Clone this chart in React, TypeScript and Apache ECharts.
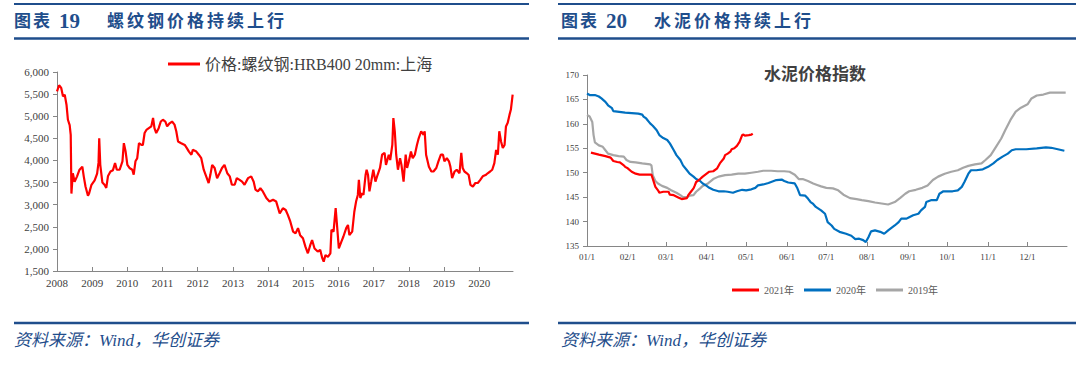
import React, { useEffect, useRef } from "react";
import * as echarts from "echarts";

// ---------- Data: left chart (rebar price, Shanghai HRB400 20mm) ----------
const rebarSeriesName = "价格:螺纹钢:HRB400 20mm:上海";
const rebarYearTicks = [2008, 2009, 2010, 2011, 2012, 2013, 2014, 2015, 2016, 2017, 2018, 2019, 2020];
const rebarPrice: [number, number][] = [
  [2008.0, 5560], [2008.06, 5700], [2008.12, 5640], [2008.17, 5450], [2008.22, 5485], [2008.27, 5260],
  [2008.31, 4920], [2008.36, 4800], [2008.39, 4580], [2008.41, 3250], [2008.45, 3710], [2008.5, 3520],
  [2008.57, 3640], [2008.64, 3790], [2008.72, 3860], [2008.76, 3640], [2008.81, 3410], [2008.88, 3200],
  [2008.91, 3250], [2008.98, 3450], [2009.07, 3550], [2009.14, 3700], [2009.18, 3950], [2009.2, 4500],
  [2009.23, 3900], [2009.29, 3500], [2009.35, 3450], [2009.4, 3380], [2009.45, 3650], [2009.52, 3750],
  [2009.59, 3780], [2009.65, 3940], [2009.7, 3790], [2009.78, 3790], [2009.86, 3980], [2009.9, 4390],
  [2009.95, 4200], [2010.0, 3900], [2010.06, 3830], [2010.14, 3790], [2010.18, 3680], [2010.23, 3980],
  [2010.28, 4050], [2010.33, 4390], [2010.4, 4350], [2010.44, 4350], [2010.49, 4620], [2010.54, 4690],
  [2010.61, 4730], [2010.68, 4770], [2010.73, 4960], [2010.77, 4730], [2010.82, 4620], [2010.89, 4730],
  [2010.95, 4880], [2011.01, 4920], [2011.08, 4880], [2011.13, 4770], [2011.2, 4840], [2011.27, 4880],
  [2011.34, 4810], [2011.39, 4660], [2011.44, 4430], [2011.53, 4390], [2011.63, 4350], [2011.69, 4280],
  [2011.75, 4200], [2011.82, 4130], [2011.86, 4240], [2011.96, 4200], [2012.03, 4130], [2012.1, 4050],
  [2012.17, 3790], [2012.24, 3640], [2012.31, 3490], [2012.36, 3680], [2012.41, 3900], [2012.48, 3830],
  [2012.55, 3600], [2012.62, 3710], [2012.69, 3830], [2012.76, 3900], [2012.84, 3710], [2012.91, 3640],
  [2012.97, 3450], [2013.05, 3450], [2013.11, 3600], [2013.19, 3560], [2013.26, 3520], [2013.33, 3450],
  [2013.43, 3600], [2013.52, 3640], [2013.59, 3520], [2013.64, 3340], [2013.71, 3300], [2013.78, 3370],
  [2013.85, 3300], [2013.95, 3150], [2014.04, 3070], [2014.14, 3110], [2014.23, 3070], [2014.33, 2800],
  [2014.42, 2920], [2014.5, 2880], [2014.56, 2770], [2014.63, 2620], [2014.71, 2390], [2014.78, 2350],
  [2014.85, 2470], [2014.91, 2310], [2014.99, 2240], [2015.06, 2050], [2015.13, 1900], [2015.2, 2090],
  [2015.25, 2200], [2015.32, 2010], [2015.41, 1940], [2015.48, 1980], [2015.54, 1790], [2015.58, 1710],
  [2015.63, 1860], [2015.7, 1820], [2015.77, 1900], [2015.8, 2430], [2015.86, 2390], [2015.92, 2920],
  [2015.95, 2620], [2016.01, 2010], [2016.08, 2160], [2016.14, 2280], [2016.22, 2470], [2016.27, 2540],
  [2016.31, 2310], [2016.39, 2390], [2016.45, 2840], [2016.5, 3070], [2016.55, 3220], [2016.58, 3560],
  [2016.62, 3150], [2016.67, 3260], [2016.71, 3220], [2016.77, 3670], [2016.8, 3790], [2016.84, 3670],
  [2016.88, 3300], [2016.93, 3520], [2016.99, 3790], [2017.05, 3520], [2017.11, 3670], [2017.18, 3830],
  [2017.24, 4130], [2017.31, 4170], [2017.35, 3900], [2017.43, 4130], [2017.47, 4010], [2017.53, 4350],
  [2017.56, 4960], [2017.6, 4660], [2017.64, 4130], [2017.69, 3790], [2017.75, 4050], [2017.79, 3900],
  [2017.85, 3520], [2017.91, 4130], [2017.95, 3830], [2018.0, 3980], [2018.06, 4200], [2018.11, 4050],
  [2018.17, 4130], [2018.23, 4350], [2018.28, 4500], [2018.35, 4660], [2018.42, 4580], [2018.45, 4660],
  [2018.49, 4130], [2018.57, 3860], [2018.64, 3750], [2018.7, 3750], [2018.78, 3830], [2018.84, 3980],
  [2018.91, 4130], [2018.97, 4130], [2019.01, 3980], [2019.08, 4050], [2019.14, 3980], [2019.18, 3860],
  [2019.23, 3600], [2019.3, 3750], [2019.36, 3790], [2019.44, 3710], [2019.49, 4170], [2019.53, 3830],
  [2019.58, 3750], [2019.65, 3710], [2019.7, 3670], [2019.75, 3450], [2019.82, 3410], [2019.89, 3490],
  [2019.96, 3490], [2020.03, 3560], [2020.1, 3640], [2020.18, 3670], [2020.24, 3710], [2020.31, 3750],
  [2020.37, 3790], [2020.43, 3940], [2020.48, 4240], [2020.53, 4130], [2020.57, 4660], [2020.62, 4430],
  [2020.67, 4280], [2020.72, 4350], [2020.76, 4770], [2020.81, 4850], [2020.86, 5030], [2020.9, 5150],
  [2020.95, 5490],
];

// ---------- Data: right chart (cement price index, day of year) ----------
const monthStartDays = [0, 31, 60, 91, 121, 152, 182, 213, 244, 274, 305, 335];
const monthLabels = ["01/1", "02/1", "03/1", "04/1", "05/1", "06/1", "07/1", "08/1", "09/1", "10/1", "11/1", "12/1"];
const cementNames = ["2021年", "2020年", "2019年"];
const cement2021: [number, number][] = [
  [3, 154.1], [9, 153.7], [14, 153.4], [18, 153.1], [20, 152.4], [23, 152.2], [25, 152.1], [28, 151.5],
  [29, 151.2], [31, 150.9], [34, 150.2], [37, 149.8], [40, 149.6], [44, 149.6], [49, 149.6], [50, 148.8],
  [52, 147.1], [54, 146.4], [55, 145.9], [58, 146.1], [62, 146.1], [63, 145.5], [66, 145.4], [69, 145.0],
  [72, 144.6], [76, 144.8], [77, 145.4], [79, 146.1], [81, 146.8], [82, 147.4], [83, 148.1], [86, 148.7],
  [88, 149.2], [91, 149.8], [93, 150.2], [96, 150.3], [99, 150.9], [101, 151.9], [104, 152.9], [105, 153.6],
  [107, 153.9], [109, 154.3], [110, 154.8], [112, 155.0], [114, 155.5], [116, 156.3], [118, 157.7],
  [119, 157.8], [120, 157.6], [123, 157.7], [125, 157.8], [126, 158.0],
];
const cement2020: [number, number][] = [
  [0, 166.2], [2, 165.9], [6, 165.9], [9, 165.6], [11, 165.2], [14, 164.5], [16, 163.8], [19, 163.2],
  [20, 162.6], [23, 162.5], [29, 162.3], [34, 162.2], [39, 162.1], [42, 161.9], [43, 161.5], [45, 161.1],
  [48, 160.1], [50, 159.6], [53, 158.7], [55, 157.7], [58, 157.1], [61, 156.7], [63, 156.0], [66, 154.6],
  [68, 153.6], [71, 152.6], [73, 151.5], [76, 150.5], [78, 149.8], [81, 149.2], [83, 148.7], [86, 148.3],
  [88, 147.8], [91, 147.3], [93, 146.9], [96, 146.5], [100, 146.2], [104, 146.2], [107, 146.1], [111, 145.9],
  [114, 146.2], [118, 146.5], [121, 146.4], [125, 146.6], [128, 146.9], [130, 147.4], [134, 147.6],
  [138, 147.9], [140, 148.1], [144, 148.5], [148, 148.6], [150, 148.3], [153, 148.0], [158, 147.8],
  [160, 146.8], [162, 145.4], [166, 145.3], [168, 144.7], [170, 144.0], [172, 143.6], [174, 143.0],
  [178, 142.3], [181, 141.6], [183, 139.9], [186, 139.2], [188, 138.5], [192, 137.9], [197, 137.5],
  [201, 137.1], [204, 136.4], [207, 136.5], [210, 136.2], [212, 135.8], [214, 136.8], [216, 138.0],
  [219, 138.2], [223, 137.9], [226, 137.5], [229, 138.2], [231, 138.6], [234, 139.2], [237, 139.9],
  [239, 140.6], [243, 140.6], [245, 140.9], [248, 141.3], [252, 141.6], [254, 142.3], [257, 143.0],
  [258, 144.0], [262, 144.4], [266, 144.4], [268, 145.7], [271, 146.2], [278, 146.2], [282, 146.4],
  [285, 147.1], [287, 148.1], [290, 149.8], [292, 150.5], [296, 150.5], [301, 150.7], [305, 151.2],
  [309, 151.9], [312, 152.6], [316, 153.3], [320, 153.9], [323, 154.6], [326, 154.8], [334, 154.8],
  [342, 155.0], [349, 155.2], [353, 155.1], [358, 154.8], [363, 154.5],
];
const cement2019: [number, number][] = [
  [0, 161.8], [2, 161.5], [4, 160.4], [5, 157.7], [6, 156.2], [9, 155.6], [12, 155.3], [14, 154.6],
  [16, 153.9], [20, 153.6], [24, 153.4], [28, 153.3], [30, 152.6], [33, 152.2], [37, 152.1], [42, 151.9],
  [48, 151.7], [49, 151.5], [50, 149.5], [52, 148.3], [54, 147.8], [57, 147.3], [61, 146.9], [64, 146.4],
  [68, 145.9], [71, 145.4], [73, 145.0], [76, 145.0], [78, 145.3], [81, 145.4], [83, 146.1], [86, 146.8],
  [88, 147.3], [92, 147.8], [96, 148.7], [100, 149.2], [105, 149.5], [110, 149.6], [115, 149.8],
  [120, 149.8], [125, 150.0], [130, 150.2], [134, 150.4], [140, 150.4], [145, 150.3], [150, 150.3],
  [154, 150.2], [158, 149.6], [161, 148.7], [164, 148.7], [168, 148.3], [172, 147.8], [175, 147.5],
  [178, 147.2], [182, 146.9], [187, 146.8], [191, 146.4], [195, 145.5], [200, 144.8], [205, 144.6],
  [209, 144.4], [214, 144.2], [219, 143.9], [224, 143.7], [229, 143.5], [234, 144.0], [238, 144.8],
  [242, 145.7], [245, 146.2], [250, 146.5], [255, 146.9], [259, 147.4], [263, 148.5], [267, 149.2],
  [272, 149.8], [277, 150.2], [282, 150.5], [286, 151.0], [290, 151.4], [295, 151.7], [300, 151.9],
  [303, 152.6], [307, 153.6], [311, 155.3], [315, 157.0], [318, 158.7], [322, 160.8], [326, 162.5],
  [330, 163.3], [335, 164.0], [338, 165.2], [342, 165.8], [347, 166.0], [352, 166.4], [358, 166.4],
  [364, 166.4],
];

const BLUE = "#1F4E8C";
const SERIF = "'Liberation Serif', 'Times New Roman', 'Noto Sans CJK SC', serif";
const AXIS_GREY = "#868686";
const LABEL = "#404040";

// spaced-out text, one glyph per element (layout helper only)
const spaced = (x: number, y: number, text: string, pitch: number, font: string, fill: string) =>
  Array.from(text).map((ch, i) => ({
    type: "text",
    x: x + i * pitch,
    y,
    style: { text: ch, fill, font, verticalAlign: "middle", align: "left" },
  }));

export default function App() {
  const ref = useRef<HTMLDivElement>(null);

  useEffect(() => {
    if (!ref.current) return;
    const chart = echarts.init(ref.current, undefined, { renderer: "svg" });

    const headerLines = (x1: number, x2: number) => [
      { type: "line", shape: { x1, y1: 4, x2, y2: 4 }, style: { stroke: BLUE, lineWidth: 2 } },
      { type: "line", shape: { x1, y1: 38.5, x2, y2: 38.5 }, style: { stroke: BLUE, lineWidth: 2.5 } },
      { type: "line", shape: { x1, y1: 323, x2, y2: 323 }, style: { stroke: BLUE, lineWidth: 2.5 } },
    ];
    const TITLE_FONT = `bold 17px ${SERIF}`;
    const header = (x: number, num: string, title: string) => [
      ...spaced(x, 21, "图表", 19, TITLE_FONT, BLUE),
      {
        type: "text",
        x: x + 45,
        y: 21,
        style: { text: num, fill: BLUE, font: `bold 21px ${SERIF}`, verticalAlign: "middle", align: "left" },
      },
      ...spaced(x + 93, 21, title, 20, TITLE_FONT, BLUE),
    ];
    const source = (x: number) => ({
      type: "text",
      x,
      y: 340,
      style: {
        text: "资料来源：Wind，华创证券",
        fill: BLUE,
        font: `italic 17px ${SERIF}`,
        verticalAlign: "middle",
        align: "left",
      },
    });

    const option: any = {
      animation: false,
      backgroundColor: "#ffffff",
      graphic: [
        ...headerLines(14, 529),
        ...headerLines(558, 1076),
        ...header(14, "19", "螺纹钢价格持续上行"),
        ...header(561, "20", "水泥价格持续上行"),
        source(14),
        source(561),
        {
          type: "text",
          x: 815,
          y: 74,
          style: {
            text: "水泥价格指数",
            fill: "#404040",
            font: `bold 17px ${SERIF}`,
            align: "center",
            verticalAlign: "middle",
          },
        },
      ],
      legend: [
        {
          data: [rebarSeriesName],
          left: 163,
          top: 51,
          icon: "rect",
          itemWidth: 32,
          itemHeight: 3,
          itemGap: 4,
          textStyle: { fontSize: 16, color: LABEL, fontFamily: SERIF, padding: [0, 0, 0, 0] },
        },
        {
          data: cementNames,
          left: 727,
          top: 280,
          icon: "rect",
          itemWidth: 27,
          itemHeight: 3,
          itemGap: 10,
          textStyle: { fontSize: 10, color: "#595959", fontFamily: SERIF },
        },
      ],
      grid: [
        { left: 57, top: 72, width: 456, height: 199 },
        { left: 587, top: 75, width: 480, height: 171 },
      ],
      xAxis: [
        {
          type: "value",
          gridIndex: 0,
          min: 2008,
          max: 2020.96,
          axisLine: { lineStyle: { color: AXIS_GREY, width: 1 } },
          axisTick: { inside: true, length: 4, customValues: rebarYearTicks, lineStyle: { color: AXIS_GREY } },
          axisLabel: {
            customValues: rebarYearTicks,
            formatter: (v: number) => String(Math.round(v)),
            color: LABEL,
            fontSize: 11,
            fontFamily: SERIF,
            margin: 6,
          },
          splitLine: { show: false },
        },
        {
          type: "value",
          gridIndex: 1,
          min: 0,
          max: 365,
          axisLine: { lineStyle: { color: AXIS_GREY, width: 1 } },
          axisTick: { inside: true, length: 4, customValues: monthStartDays, lineStyle: { color: AXIS_GREY } },
          axisLabel: {
            customValues: monthStartDays,
            formatter: (v: number) => {
              const i = monthStartDays.indexOf(Math.round(v));
              return i >= 0 ? monthLabels[i] : "";
            },
            color: LABEL,
            fontSize: 9,
            fontFamily: SERIF,
            margin: 6,
          },
          splitLine: { show: false },
        },
      ],
      yAxis: [
        {
          type: "value",
          gridIndex: 0,
          min: 1500,
          max: 6000,
          interval: 500,
          axisLine: { show: true, lineStyle: { color: AXIS_GREY, width: 1 } },
          axisTick: { show: true, length: 4, lineStyle: { color: AXIS_GREY } },
          axisLabel: {
            formatter: (v: number) => v.toLocaleString("en-US"),
            color: LABEL,
            fontSize: 11,
            fontFamily: SERIF,
            margin: 8,
          },
          splitLine: { show: false },
        },
        {
          type: "value",
          gridIndex: 1,
          min: 135,
          max: 170,
          interval: 5,
          axisLine: { show: true, lineStyle: { color: AXIS_GREY, width: 1 } },
          axisTick: { show: true, length: 4, lineStyle: { color: AXIS_GREY } },
          axisLabel: { color: LABEL, fontSize: 9, fontFamily: SERIF, margin: 8 },
          splitLine: { show: false },
        },
      ],
      series: [
        {
          name: rebarSeriesName,
          type: "line",
          xAxisIndex: 0,
          yAxisIndex: 0,
          data: rebarPrice,
          symbol: "none",
          lineStyle: { color: "#FF0000", width: 2.2 },
          itemStyle: { color: "#FF0000" },
        },
        {
          name: cementNames[0],
          type: "line",
          xAxisIndex: 1,
          yAxisIndex: 1,
          data: cement2021,
          symbol: "none",
          lineStyle: { color: "#FF0000", width: 2.2 },
          itemStyle: { color: "#FF0000" },
          z: 4,
        },
        {
          name: cementNames[1],
          type: "line",
          xAxisIndex: 1,
          yAxisIndex: 1,
          data: cement2020,
          symbol: "none",
          lineStyle: { color: "#0070C0", width: 2.2 },
          itemStyle: { color: "#0070C0" },
          z: 3,
        },
        {
          name: cementNames[2],
          type: "line",
          xAxisIndex: 1,
          yAxisIndex: 1,
          data: cement2019,
          symbol: "none",
          lineStyle: { color: "#A6A6A6", width: 2.2 },
          itemStyle: { color: "#A6A6A6" },
          z: 2,
        },
      ],
    };

    chart.setOption(option);
    return () => chart.dispose();
  }, []);

  return (
    <div
      ref={ref}
      style={{ position: "fixed", left: 0, top: 0, width: 1080, height: 379, background: "#fff" }}
    />
  );
}
